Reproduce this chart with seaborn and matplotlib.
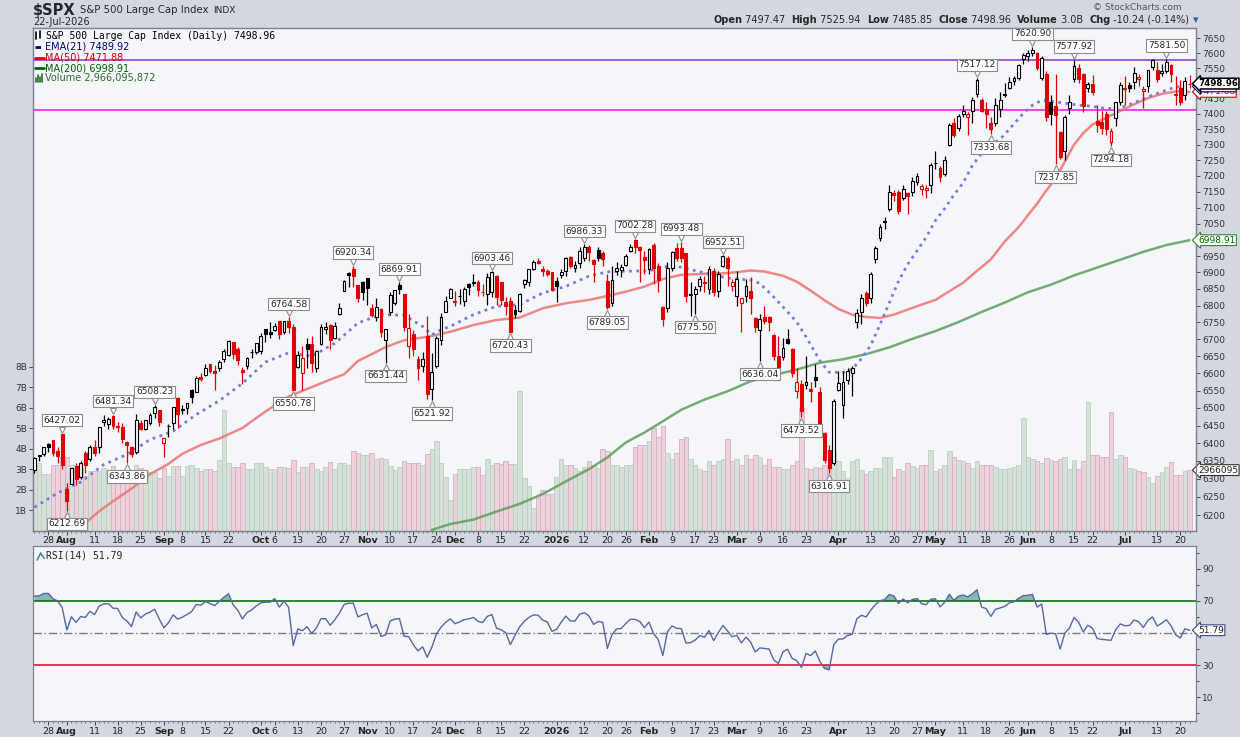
import numpy as np
import pandas as pd
import seaborn as sns
import matplotlib
matplotlib.use("Agg")
import matplotlib.pyplot as plt
import matplotlib.transforms as mtrans
from matplotlib.lines import Line2D

# ---------------- data ----------------
holidays = ["2025-09-01", "2025-11-27", "2025-12-25", "2026-01-01", "2026-01-19",
            "2026-02-16", "2026-04-03", "2026-05-25", "2026-06-19", "2026-07-03"]

opens = [
    6326, 6368, 6370, 6397, 6409, 6377, 6427,
    6271, 6287, 6336, 6304, 6371, 6356, 6390, 6388, 6461, 6453, 6478, 6445, 6446, 6404, 6388, 6375, 6457, 6441, 6457, 6486, 6494,
    6401, 6450, 6456, 6529, 6498, 6500, 6551, 6545, 6590, 6594, 6626, 6607, 6615, 6642, 6654, 6693, 6670, 6609, 6620, 6661, 6663,
    6664, 6731, 6722, 6728, 6753, 6722, 6754, 6735, 6618, 6600, 6685, 6687, 6615, 6686, 6731, 6743, 6705, 6775, 6845, 6897, 6910, 6863, 6871,
    6882, 6792, 6767, 6790, 6697, 6782, 6809, 6862, 6834, 6680, 6715, 6641, 6620, 6710, 6555, 6621, 6697, 6780, 6823,
    6810, 6830, 6815, 6866, 6867, 6871, 6840, 6835, 6842, 6890, 6870, 6812, 6813, 6786, 6784, 6865, 6870, 6912, 6935, 6910, 6903, 6900,
    6873, 6893, 6904, 6946, 6913, 6929, 6944, 6977, 6937, 6970, 6960, 6874, 6808, 6906, 6908, 6924, 6965, 7000, 6978, 6948,
    6912, 6985, 6920, 6795, 6793, 6915, 6975, 6975, 6958, 6835, 6835, 6860, 6870, 6850, 6905, 6845, 6920, 6945, 6860,
    6830, 6808, 6830, 6845, 6762, 6727, 6765, 6765, 6712, 6650, 6648, 6700, 6670, 6550, 6570, 6565, 6555, 6590, 6545, 6430, 6380, 6345,
    6553, 6508, 6580, 6600, 6750, 6782, 6838, 6822, 6940, 7005, 7058, 7095, 7145, 7150, 7130, 7145, 7150, 7180, 7160, 7155, 7170,
    7242, 7225, 7205, 7300, 7370, 7355, 7400, 7390, 7410, 7465, 7445, 7415, 7370, 7370, 7415, 7465, 7485, 7507, 7516, 7580,
    7590, 7600, 7602, 7516, 7532, 7437, 7425, 7340, 7280, 7420, 7515, 7550, 7530, 7485, 7498, 7375, 7372, 7400, 7310, 7385, 7440,
    7485, 7495, 7505, 7515, 7475, 7490, 7555, 7545, 7535, 7540, 7560, 7460, 7485, 7461, 7497.47,
]
highs = [
    6361, 6368, 6389, 6401, 6409, 6389, 6427.02,
    6288, 6330, 6343, 6350, 6379, 6396, 6409, 6446, 6480, 6474, 6481.34, 6459, 6456, 6405, 6393, 6482, 6466, 6467, 6485, 6508.23, 6495,
    6416, 6453, 6502, 6532, 6508, 6513, 6555, 6592, 6600, 6626, 6627, 6624, 6639, 6671, 6697, 6693, 6677, 6618, 6647, 6670, 6689,
    6718, 6731, 6750, 6749, 6754, 6753, 6764.58, 6745, 6664, 6680, 6703, 6709, 6667, 6745, 6752, 6745, 6750, 6808, 6876, 6901, 6920.34, 6863, 6875,
    6882, 6804, 6823, 6794, 6729, 6841, 6848, 6869.91, 6836, 6776, 6726, 6650, 6662, 6770, 6660, 6711, 6777, 6829, 6853,
    6843, 6851, 6857, 6867, 6895, 6876, 6864, 6899, 6903.46, 6891, 6870, 6825, 6826, 6801, 6839, 6881, 6912, 6937, 6945, 6920, 6910, 6902,
    6886, 6912, 6946, 6951, 6935, 6978, 6986.33, 6985, 6941, 6979, 6967, 6896, 6920, 6932, 6927, 6956, 6986, 7002.28, 6980, 6965,
    6975, 6990, 6928, 6800, 6932, 6965, 6990, 6993.48, 6960, 6870, 6860, 6890, 6890, 6920, 6915, 6905, 6952.51, 6950, 6880,
    6905, 6820, 6880, 6885, 6765, 6775, 6800, 6770, 6715, 6710, 6705, 6730, 6675, 6615, 6580, 6650, 6575, 6628, 6560, 6432, 6395, 6525,
    6606, 6606, 6615, 6620, 6790, 6835, 6845, 6900, 6980, 7050, 7072, 7170, 7155, 7155, 7170, 7150, 7195, 7210, 7175, 7170, 7240,
    7280, 7230, 7265, 7370, 7385, 7400, 7430, 7405, 7455, 7517.12, 7450, 7440, 7390, 7450, 7470, 7500, 7520, 7525, 7565, 7600,
    7610, 7620.90, 7605, 7590, 7540, 7462, 7530, 7345, 7395, 7460, 7577.92, 7565, 7535, 7505, 7528, 7430, 7410, 7410, 7355, 7440, 7505,
    7525, 7505, 7555, 7530, 7490, 7545, 7580, 7570, 7565, 7581.50, 7565, 7525, 7510, 7520, 7525.94,
]
lows = [
    6317, 6351, 6363, 6375, 6364, 6344, 6327,
    6212.69, 6285, 6282, 6300, 6316, 6349, 6364, 6372, 6449, 6441, 6441, 6432, 6400, 6343.86, 6360, 6370, 6438, 6437, 6452, 6470, 6448,
    6361, 6418, 6440, 6443, 6483, 6483, 6514, 6545, 6579, 6592, 6600, 6551, 6607, 6634, 6650, 6641, 6623, 6570, 6612, 6645, 6656,
    6656, 6693, 6705, 6723, 6700, 6714, 6717, 6550.78, 6615, 6552, 6616, 6603, 6605, 6682, 6715, 6670, 6700, 6772, 6844, 6855, 6856, 6812, 6818,
    6803, 6766, 6755, 6708, 6631.44, 6772, 6801, 6834, 6725, 6646, 6650, 6582, 6604, 6526, 6521.92, 6616, 6684, 6780, 6823,
    6800, 6806, 6800, 6831, 6858, 6829, 6830, 6801, 6827, 6801, 6801, 6772, 6720.43, 6764, 6781, 6853, 6860, 6908, 6925, 6888, 6889, 6843,
    6812, 6882, 6890, 6913, 6901, 6915, 6934, 6934, 6872, 6934, 6920, 6789.05, 6800, 6892, 6885, 6921, 6963, 6958, 6871, 6895,
    6895, 6866, 6842, 6738, 6780, 6905, 6935, 6932, 6810, 6770, 6775.50, 6845, 6840, 6835, 6830, 6825, 6918, 6860, 6845,
    6800, 6720, 6810, 6775, 6720, 6636.04, 6745, 6725, 6640, 6600, 6640, 6685, 6590, 6530, 6473.52, 6555, 6518, 6560, 6450, 6345, 6316.91, 6340,
    6548, 6470, 6570, 6535, 6733, 6745, 6800, 6808, 6930, 6995, 7035, 7090, 7120, 7080, 7125, 7080, 7135, 7170, 7140, 7130, 7145,
    7222, 7180, 7200, 7295, 7325, 7345, 7390, 7330, 7370, 7455, 7405, 7355, 7333.68, 7360, 7390, 7455, 7480, 7495, 7510, 7565,
    7575, 7590, 7545, 7510, 7375, 7364, 7237.85, 7255, 7250, 7400, 7505, 7500, 7405, 7470, 7460, 7340, 7335, 7330, 7294.18, 7360, 7430,
    7430, 7470, 7480, 7490, 7420, 7470, 7545, 7505, 7525, 7535, 7505, 7430, 7430, 7445, 7485.85,
]
closes = [
    6359, 6363, 6389, 6390, 6371, 6363, 6339,
    6238, 6330, 6299, 6345, 6340, 6389, 6373, 6446, 6467, 6469, 6450, 6449, 6411, 6396, 6370, 6467, 6439, 6466, 6481, 6502, 6460,
    6416, 6448, 6502, 6482, 6495, 6513, 6532, 6587, 6584, 6615, 6607, 6600, 6632, 6664, 6694, 6657, 6638, 6605, 6644, 6661, 6688,
    6711, 6715, 6716, 6740, 6715, 6754, 6735, 6552.5, 6655, 6644, 6671, 6629, 6664, 6735, 6735.4, 6699, 6738, 6792, 6875, 6891, 6890.6, 6822, 6840,
    6852, 6772, 6796, 6720, 6729, 6832, 6847, 6851, 6737, 6734, 6672, 6617, 6642, 6539, 6603, 6705, 6766, 6813, 6849,
    6813, 6829, 6850, 6857, 6870, 6847, 6841, 6887, 6901, 6827, 6817, 6800, 6721, 6775, 6835, 6878, 6910, 6932, 6930, 6906, 6896, 6846,
    6858, 6902, 6945, 6921, 6921.5, 6966, 6977, 6964, 6927, 6944, 6940, 6797, 6876, 6913, 6916, 6950, 6979, 6978, 6969, 6939,
    6972, 6913, 6878, 6760, 6913, 6962, 6945, 6943, 6830, 6833, 6850, 6880, 6868, 6912, 6840, 6895, 6950, 6913, 6870,
    6880, 6822, 6860, 6822, 6735, 6760, 6755, 6750, 6650, 6610, 6675, 6690, 6600, 6575, 6490, 6575, 6550, 6580, 6455, 6352, 6330, 6520,
    6572, 6574, 6606, 6615, 6778, 6822, 6808, 6895, 6975, 7040, 7055, 7150, 7140, 7090, 7160, 7135, 7185, 7200, 7168, 7162, 7235,
    7240, 7195, 7250, 7365, 7330, 7392, 7410, 7400, 7445, 7510, 7410, 7400, 7350, 7430, 7445, 7463, 7505, 7517, 7560, 7595,
    7600, 7610, 7552, 7583, 7390, 7400, 7395, 7260, 7390, 7437, 7557, 7515, 7425, 7498, 7470, 7365, 7355, 7350, 7345, 7437, 7495,
    7480, 7483, 7535, 7522, 7482, 7545, 7577, 7515, 7540, 7570, 7530, 7465, 7440, 7509.20, 7498.96,
]
volumes_b = [
    3.3, 3.3, 2.8, 2.8, 3.2, 3.2, 3.6,
    3.6, 3.2, 3.05, 3.05, 2.7, 2.9, 2.9, 2.9, 3.05, 2.9, 3.15, 2.9, 2.85, 2.9, 2.9, 3.2, 3.05, 2.9, 2.85, 2.85, 2.6,
    3.05, 2.7, 3.15, 3.15, 2.7, 3.15, 3.2, 3.05, 2.9, 3.0, 3.0, 2.9, 3.45, 5.9, 3.3, 3.1, 3.1, 3.3, 3.0, 3.0, 3.3,
    3.3, 3.1, 3.0, 3.0, 3.1, 3.1, 3.05, 3.45, 2.85, 3.1, 3.1, 3.3, 3.0, 2.9, 3.1, 3.35, 3.0, 3.3, 3.3, 3.2, 3.9, 3.8, 3.7,
    3.7, 3.8, 3.5, 3.55, 3.5, 3.15, 2.95, 3.1, 3.4, 3.3, 3.3, 3.3, 3.2, 3.75, 4.0, 4.4, 3.3, 2.65, 1.5,
    2.8, 3.0, 3.0, 3.0, 3.1, 3.1, 2.75, 3.5, 3.2, 3.3, 3.25, 3.4, 3.25, 3.25, 6.8, 2.6, 2.2, 1.1, 1.6, 2.0, 1.8, 1.8,
    2.65, 3.5, 3.2, 3.2, 3.05, 2.9, 3.1, 3.4, 3.2, 3.05, 4.0, 3.9, 3.2, 3.2, 3.1, 3.2, 3.2, 4.1, 4.2, 4.2,
    4.4, 5.0, 4.6, 5.1, 3.8, 3.5, 3.8, 4.5, 4.6, 3.5, 3.2, 3.0, 2.9, 3.4, 3.2, 3.4, 3.5, 4.5, 3.4,
    3.5, 3.2, 3.7, 3.5, 3.7, 3.6, 3.2, 3.5, 3.1, 3.1, 3.0, 3.0, 3.2, 3.4, 6.0, 3.05, 3.0, 3.1, 3.05, 3.2, 3.2, 3.9,
    3.4, 2.9, 2.6, 3.4, 3.5, 2.95, 2.8, 2.9, 3.05, 3.05, 3.6, 3.6, 2.65, 3.0, 2.9, 3.3, 3.15, 3.05, 3.2, 3.2, 3.95,
    2.9, 3.0, 3.2, 3.9, 3.6, 3.45, 3.4, 3.3, 3.05, 3.4, 3.2, 3.2, 3.2, 3.1, 3.0, 3.0, 3.05, 3.1, 3.2, 5.5,
    3.6, 3.5, 3.4, 3.3, 3.55, 3.45, 3.4, 3.5, 3.6, 3.0, 3.45, 3.0, 3.4, 6.3, 3.7, 3.7, 3.6, 3.6, 5.8, 3.5, 3.7,
    3.6, 3.05, 3.0, 2.9, 2.85, 2.65, 2.35, 2.7, 2.85, 3.1, 3.35, 2.75, 2.75, 2.9, 2.966,
]

# moving averages (session number, value)
ema21_sess = [0, 5, 10, 15, 20, 25, 30, 35, 40, 45, 50, 55, 60, 65, 70, 75, 80, 84, 86, 88, 90, 95, 100, 105,
              110, 115, 120, 124, 128, 133, 138, 145, 150, 155, 157, 160, 163, 165, 167, 170, 172, 175, 177,
              179, 181, 183, 185, 187, 189, 191, 193, 195, 197, 199, 201, 203, 205, 207, 209, 211, 214, 216,
              218, 221, 225, 229, 232, 235, 238, 241, 244, 247, 250]
ema21_vals = [6222, 6261, 6291, 6340, 6368, 6410, 6434, 6481, 6521, 6571, 6633, 6660, 6650, 6688, 6748, 6773,
              6771, 6738, 6713, 6728, 6738, 6773, 6798, 6803, 6838, 6858, 6889, 6902, 6904, 6905, 6922, 6899,
              6883, 6877, 6867, 6826, 6781, 6751, 6707, 6637, 6603, 6603, 6612, 6643, 6682, 6743, 6808, 6873,
              6925, 6966, 7008, 7060, 7097, 7140, 7178, 7233, 7272, 7300, 7317, 7350, 7401, 7428, 7444, 7439,
              7430, 7424, 7417, 7419, 7436, 7455, 7472, 7488, 7489.92]
ma50_sess = [9, 14, 18, 21, 25, 29, 32, 36, 40, 45, 50, 55, 60, 64, 67, 70, 73, 76, 80, 85, 90, 95, 100, 105,
             110, 115, 120, 124, 128, 132, 136, 140, 145, 150, 155, 158, 162, 165, 168, 171, 174, 177, 180,
             183, 186, 189, 192, 195, 198, 201, 204, 207, 210, 213, 215, 217, 219, 221, 223, 225, 227, 229,
             232, 235, 238, 241, 244, 247, 250]
ma50_vals = [6157, 6211, 6247, 6273, 6313, 6342, 6370, 6395, 6413, 6443, 6490, 6533, 6560, 6582, 6597, 6636,
             6656, 6677, 6697, 6707, 6722, 6742, 6757, 6764, 6792, 6807, 6817, 6829, 6842, 6857, 6880, 6893,
             6896, 6898, 6906, 6903, 6890, 6872, 6845, 6816, 6790, 6773, 6766, 6763, 6773, 6788, 6803, 6817,
             6843, 6869, 6905, 6940, 6995, 7039, 7076, 7112, 7154, 7192, 7245, 7300, 7337, 7365, 7387, 7409,
             7431, 7451, 7465, 7473, 7471.88]
ma200_sess = [86, 90, 95, 100, 105, 110, 115, 120, 124, 128, 132, 136, 140, 145, 150, 155, 160, 165, 170,
              175, 180, 185, 190, 195, 200, 205, 210, 215, 220, 225, 230, 235, 240, 245, 250]
ma200_vals = [6160, 6176, 6188, 6210, 6231, 6258, 6293, 6327, 6360, 6402, 6430, 6462, 6495, 6524, 6548, 6577,
              6595, 6611, 6631, 6641, 6656, 6676, 6701, 6724, 6751, 6781, 6809, 6840, 6863, 6891, 6915, 6939,
              6963, 6984, 6998.91]

# Wilder RSI starting averages, chosen to match the chart's first RSI value (~73)
rsi_start_gain, rsi_start_loss = 27.0, 10.0

# drawn trend lines
purple_level = 7577.92
magenta_level = 7411

callout_high_dates = ["2025-07-31", "2025-08-15", "2025-08-28", "2025-10-09", "2025-10-29", "2025-11-12",
                      "2025-12-11", "2026-01-12", "2026-01-28", "2026-02-11", "2026-02-25", "2026-05-14",
                      "2026-06-02", "2026-06-15", "2026-07-15"]
callout_low_dates = ["2025-08-01", "2025-08-20", "2025-10-10", "2025-11-07", "2025-11-21", "2025-12-17",
                     "2026-01-20", "2026-02-17", "2026-03-09", "2026-03-20", "2026-03-30", "2026-05-19",
                     "2026-06-09", "2026-06-26"]

tick_dates = ["2025-07-28", "2025-08-01", "2025-08-11", "2025-08-18", "2025-08-25", "2025-09-02", "2025-09-08",
              "2025-09-15", "2025-09-22", "2025-10-01", "2025-10-06", "2025-10-13", "2025-10-20", "2025-10-27",
              "2025-11-03", "2025-11-10", "2025-11-17", "2025-11-24", "2025-12-01", "2025-12-08", "2025-12-15",
              "2025-12-22", "2026-01-02", "2026-01-12", "2026-01-20", "2026-01-26", "2026-02-02", "2026-02-09",
              "2026-02-17", "2026-02-23", "2026-03-02", "2026-03-09", "2026-03-16", "2026-03-23", "2026-04-01",
              "2026-04-13", "2026-04-20", "2026-04-27", "2026-05-01", "2026-05-11", "2026-05-18", "2026-05-26",
              "2026-06-01", "2026-06-08", "2026-06-15", "2026-06-22", "2026-07-01", "2026-07-13", "2026-07-20"]
tick_texts = ["28", "Aug", "11", "18", "25", "Sep", "8", "15", "22", "Oct", "6", "13", "20", "27",
              "Nov", "10", "17", "24", "Dec", "8", "15", "22", "2026", "12", "20", "26", "Feb", "9",
              "17", "23", "Mar", "9", "16", "23", "Apr", "13", "20", "27", "May", "11", "18", "26",
              "Jun", "8", "15", "22", "Jul", "13", "20"]

price_ticks = list(range(6200, 7651, 50))
vol_ticks = [1, 2, 3, 4, 5, 6, 7, 8]
rsi_ticks = [10, 30, 70, 90]

# ---------------- styling ----------------
sns.set_style("white")
plt.rcParams['font.family'] = ['DejaVu Sans']

W, H = 1240, 737
FIGBG = '#d3d7e0'
PANEL = '#f5f6fa'
SPINE = '#7c828e'
RED = '#e00000'
BLACK = '#000000'

fig = plt.figure(figsize=(W / 100, H / 100), dpi=100)
fig.patch.set_facecolor(FIGBG)


def fbox(x0, y0, x1, y1):
    return [x0 / W, 1 - y1 / H, (x1 - x0) / W, (y1 - y0) / H]


def fx(px):
    return px / W


def fy(py):
    return 1 - py / H


def bold_months(axis):
    for lab in axis.get_xticklabels():
        if not lab.get_text().isdigit() or lab.get_text() == '2026':
            lab.set_fontweight('bold')


days = pd.bdate_range("2025-07-23", "2026-07-22", freq="C", holidays=holidays)
n = len(days)
xs = np.arange(n)
o, h, l, c, v = map(np.asarray, (opens, highs, lows, closes, volumes_b))

prev_close = np.r_[c[0], c[:-1]]
down = c < prev_close
col = np.where(down, RED, BLACK)
hollow = c > o

XLIM = (-0.43, 251.4)
tick_idx = days.get_indexer(pd.to_datetime(tick_dates))

# ---------------- main panel (volume underneath, price on top) ----------------
axv = fig.add_axes(fbox(32.5, 28, 1196, 531))
axv.set_facecolor(PANEL)
axv.bar(xs, v, width=1.0, color=np.where(down, '#ecd2dd', '#d5e1d8'),
        edgecolor=np.where(down, '#dcaec0', '#bccfc1'), linewidth=0.6)
axv.set_ylim(0, 24.5)
axv.set_xlim(*XLIM)
axv.set_yticks(vol_ticks, labels=[f"{k}B" for k in vol_ticks])
axv.tick_params(axis='y', left=True, length=3, width=0.6, labelsize=6.5, pad=1, colors='#333333')
axv.tick_params(axis='x', which='both', bottom=False, labelbottom=False)

ax = fig.add_axes(fbox(32.5, 28, 1196, 531), sharex=axv)
ax.patch.set_alpha(0)
ax.set_yscale('log')
ax.set_ylim(6157, 7685)

ax.axhline(purple_level, color='#8a34c8', lw=1.1, zorder=1)
ax.axhline(magenta_level, color='#f010e0', lw=1.1, zorder=1)

sns.lineplot(x=ma200_sess, y=ma200_vals, ax=ax, color='#5e9e5e', lw=1.8, alpha=0.85, zorder=2)
sns.lineplot(x=ma50_sess, y=ma50_vals, ax=ax, color='#ef7474', lw=1.8, alpha=0.85, zorder=2)
sns.lineplot(x=ema21_sess, y=ema21_vals, ax=ax, color='#7b7bd6', lw=2.0, linestyle=(0, (1, 1.6)), zorder=2)

ax.vlines(xs, l, h, colors=col, linewidth=0.9, zorder=3)
ax.bar(xs, np.abs(c - o), bottom=np.minimum(o, c), width=0.62,
       color=np.where(hollow, PANEL, col), edgecolor=col, linewidth=0.8, zorder=4)

# callouts at swing highs and lows
idx_hi = days.get_indexer(pd.to_datetime(callout_high_dates))
idx_lo = days.get_indexer(pd.to_datetime(callout_low_dates))
up_tr = mtrans.offset_copy(ax.transData, fig=fig, x=0, y=4, units='dots')
dn_tr = mtrans.offset_copy(ax.transData, fig=fig, x=0, y=-4, units='dots')
bstyle = dict(boxstyle='square,pad=0.18', fc='white', ec='#8c8c8c', lw=0.8)
for i in idx_hi:
    ax.annotate(f"{h[i]:.2f}", xy=(i, h[i]), xytext=(0, 6.3), textcoords='offset points',
                ha='center', va='bottom', fontsize=6.5, bbox=bstyle, zorder=6, annotation_clip=False)
    ax.plot(i, h[i], marker='v', ms=5, mfc='white', mec='#8c8c8c', mew=0.8, transform=up_tr, zorder=7)
for i in idx_lo:
    ax.annotate(f"{l[i]:.2f}", xy=(i, l[i]), xytext=(0, -6.3), textcoords='offset points',
                ha='center', va='top', fontsize=6.5, bbox=bstyle, zorder=6, annotation_clip=False)
    ax.plot(i, l[i], marker='^', ms=5, mfc='white', mec='#8c8c8c', mew=0.8, transform=dn_tr, zorder=7)

ax.set_yticks(price_ticks, labels=[str(p) for p in price_ticks])
ax.set_yticks([], minor=True)
ax.yaxis.tick_right()
ax.tick_params(axis='y', length=3, width=0.6, labelsize=6.5, pad=1.5, colors='#333333')

ax.set_xticks(tick_idx, labels=tick_texts)
ax.set_xticks(xs, minor=True)
ax.set_xlim(*XLIM)
ax.tick_params(axis='x', which='major', bottom=True, length=3, width=0.6, labelsize=6.8, pad=0.5)
ax.tick_params(axis='x', which='minor', bottom=True, length=1.5, width=0.5, color='#555555')
bold_months(ax)
ax.set_xlabel('')
ax.set_ylabel('')
for a in (ax, axv):
    for s in a.spines.values():
        s.set_color(SPINE)
        s.set_linewidth(0.9)


# right-hand value tags
def tag(axis, y, text, tc, ec, bold=False, z=8, size=6.5, lw=0.8):
    axis.annotate(text, xy=(1.0, y), xycoords=('axes fraction', 'data'), xytext=(1.5, 0),
                  textcoords='offset points', ha='left', va='center', fontsize=size, color=tc,
                  fontweight='bold' if bold else 'normal', annotation_clip=False, zorder=z,
                  bbox=dict(boxstyle='larrow,pad=0.1', fc='white', ec=ec, lw=lw))


tag(axv, volumes_b[-1], "2966095", '#222222', '#333333')
tag(ax, ma200_vals[-1], "6998.91", '#006400', '#2a8a2a')
tag(ax, ma50_vals[-1], "7471.88", RED, RED)
tag(ax, ema21_vals[-1], "7489.92", '#00008b', '#00008b')
tag(ax, closes[-1], "7498.96", BLACK, BLACK, bold=True, z=9, size=6.3, lw=1.1)

# legend block in the main panel
fig.text(fx(46), fy(35.7), "S&P 500 Large Cap Index (Daily) 7498.96", family='DejaVu Sans Mono',
         fontsize=7, va='center', color='black')
fig.add_artist(Line2D([fx(36), fx(36)], [fy(32), fy(39)], color='black', lw=1.2))
fig.add_artist(Line2D([fx(40), fx(40)], [fy(31), fy(38)], color='black', lw=1.2))
legend_rows = [("EMA(21) 7489.92", '#00008b', '#00008b', (0, (2, 1.5))),
               ("MA(50) 7471.88", RED, RED, '-'),
               ("MA(200) 6998.91", '#006400', '#006400', '-')]
for k, (txt, tcol, lcol, ls) in enumerate(legend_rows):
    yy = 46.7 + k * 10.8
    fig.add_artist(Line2D([fx(35), fx(44)], [fy(yy), fy(yy)], color=lcol, lw=2, linestyle=ls))
    fig.text(fx(45.5), fy(yy), txt, fontsize=7, color=tcol, va='center')
for k, hgt in enumerate([4, 7, 5, 8]):
    fig.add_artist(Line2D([fx(36 + 2 * k), fx(36 + 2 * k)], [fy(82), fy(82 - hgt)], color='#2f6b2f', lw=1.2))
fig.text(fx(45.5), fy(78.3), "Volume 2,966,095,872", fontsize=7, color='#2f6b2f', va='center')

# ---------------- RSI panel ----------------
rsi = []
ag, al = rsi_start_gain, rsi_start_loss
for k in range(n):
    if k > 0:
        d = c[k] - c[k - 1]
        ag = (ag * 13 + max(d, 0)) / 14
        al = (al * 13 + max(-d, 0)) / 14
    rsi.append(100 - 100 / (1 + ag / al))
rsi = np.array(rsi)

axr = fig.add_axes(fbox(32.5, 546, 1196, 721))
axr.set_facecolor(PANEL)
axr.fill_between(xs, rsi, 70, where=rsi >= 70, interpolate=True, color='#6ea79c', alpha=0.8, lw=0)
axr.fill_between(xs, rsi, 30, where=rsi <= 30, interpolate=True, color='#6ea79c', alpha=0.8, lw=0)
axr.axhline(70, color='#006000', lw=1.1)
axr.axhline(30, color='#e0002a', lw=1.1)
axr.axhline(50, color='#7a7a84', lw=1.0, linestyle=(0, (6, 2, 1, 2)))
sns.lineplot(x=xs, y=rsi, ax=axr, color='#5867a6', lw=1.0)
axr.set_xlim(*XLIM)
axr.set_ylim(-4.7, 104.2)
axr.set_yticks(rsi_ticks, labels=[str(t) for t in rsi_ticks])
axr.set_yticks([0, 20, 40, 50, 60, 80, 100], minor=True)
axr.yaxis.tick_right()
axr.tick_params(axis='y', which='major', length=3, width=0.6, labelsize=6.5, pad=1.5, colors='#333333')
axr.tick_params(axis='y', which='minor', length=2, width=0.6)
axr.set_xticks(tick_idx, labels=tick_texts)
axr.set_xticks(xs, minor=True)
axr.tick_params(axis='x', which='major', bottom=True, length=3, width=0.6, labelsize=6.8, pad=1)
axr.tick_params(axis='x', which='minor', bottom=True, length=1.5, width=0.5, color='#555555')
bold_months(axr)
axr.set_xlabel('')
axr.set_ylabel('')
for s in axr.spines.values():
    s.set_color(SPINE)
    s.set_linewidth(0.9)
tag(axr, 51.79, "51.79", '#222222', '#3a4a8a')
fig.text(fx(46), fy(556), "RSI(14) 51.79", family='DejaVu Sans Mono', fontsize=7, va='center')
axr.plot([0.004, 0.007, 0.01], [0.92, 0.96, 0.93], transform=axr.transAxes, color='#4f8a80', lw=1.2)

# ---------------- header ----------------
renderer = fig.canvas.get_renderer()
t = fig.text(fx(33), fy(10), "$SPX", fontsize=10.5, fontweight='bold', va='center')
xp = t.get_window_extent(renderer=renderer).x1 + 4
t = fig.text(fx(xp), fy(10), "S&P 500 Large Cap Index", fontsize=7.3, va='center')
xp = t.get_window_extent(renderer=renderer).x1 + 5
fig.text(fx(xp), fy(10.5), "INDX", fontsize=6.5, va='center')
fig.text(fx(33), fy(22), "22-Jul-2026", fontsize=7, va='center')
fig.text(fx(1182), fy(8), "\u00a9 StockCharts.com", fontsize=6.5, color='#555555', ha='right', va='center')

pieces = [("Open", True), (" 7497.47  ", False), ("High", True), (" 7525.94  ", False),
          ("Low", True), (" 7485.85  ", False), ("Close", True), (" 7498.96  ", False),
          ("Volume", True), (" 3.0B  ", False), ("Chg", True), (" -10.24 (-0.14%) ", False)]
xp = 713
for txt, bold in pieces:
    t = fig.text(fx(xp), fy(20), txt, fontsize=7, fontweight='bold' if bold else 'normal', va='center')
    xp = t.get_window_extent(renderer=renderer).x1
fig.text(fx(xp), fy(20), "\u25be", fontsize=8, color='#3a5a9a', va='center')

fig.savefig("out.png", dpi=100, facecolor=fig.get_facecolor())
